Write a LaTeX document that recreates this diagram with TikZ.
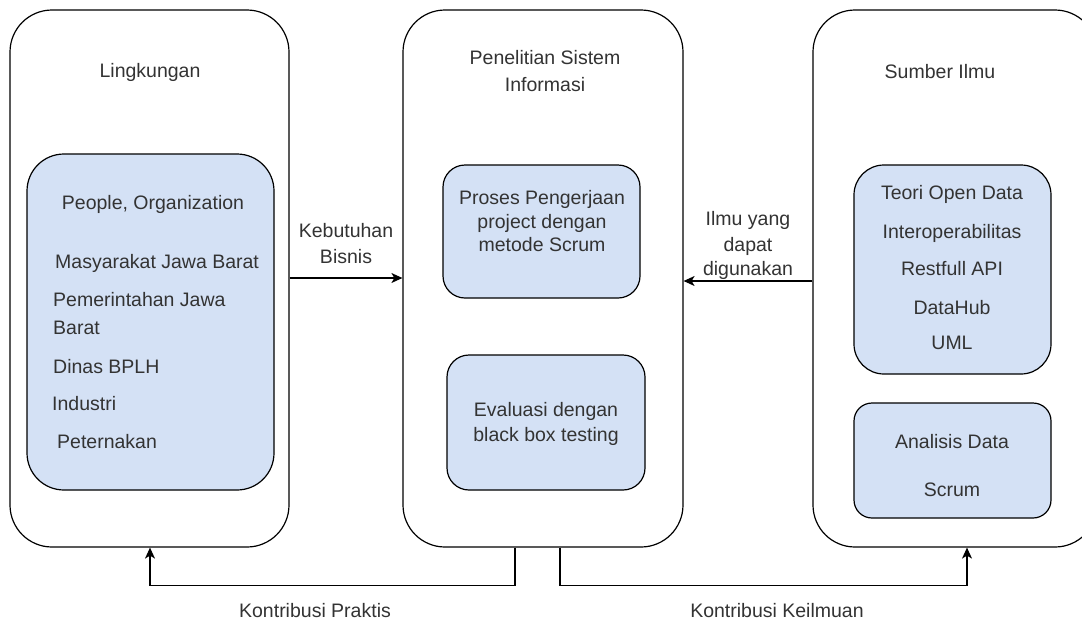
\documentclass[tikz,border=0pt]{standalone}
\usepackage{fontspec}
\setmainfont{Liberation Sans}
\usetikzlibrary{arrows.meta}
\definecolor{boxfill}{HTML}{D4E1F5}
\definecolor{txt}{HTML}{333333}
\begin{document}
\begin{tikzpicture}[x=1pt,y=-1pt,
  outer/.style={draw=black, line width=1.2pt, rounded corners=42pt, inner sep=0pt},
  innerbox/.style={draw=black, line width=1.2pt, fill=boxfill, inner sep=0pt},
  lbl/.style={text=txt, inner sep=0pt, anchor=base, font=\fontsize{19.5}{24}\selectfont},
  lbll/.style={lbl, anchor=base west},
  conn/.style={draw=black, line width=1.2pt, -{Stealth[length=11pt,width=10pt,inset=3pt]}}
]
\useasboundingbox (0,0) rectangle (1082,622);
\fill[white] (0,0) rectangle (1082,622);
\clip (0,0) rectangle (1082,622);

% outer containers
\node[outer, minimum width=279pt, minimum height=537pt] (L) at (149.5,278.5) {};
\node[outer, minimum width=280pt, minimum height=537pt] (C) at (543,278.5) {};
\node[outer, minimum width=284pt, minimum height=537pt] (R) at (955,278.5) {};

% inner boxes
\node[innerbox, rounded corners=37pt, minimum width=247pt, minimum height=336pt] (Lin) at (150.5,322) {};
\node[innerbox, rounded corners=22pt, minimum width=197pt, minimum height=133pt] (C1) at (541.5,231.5) {};
\node[innerbox, rounded corners=22pt, minimum width=198pt, minimum height=135pt] (C2) at (546,422.5) {};
\node[innerbox, rounded corners=30pt, minimum width=197pt, minimum height=209pt] (R1) at (952.5,269.5) {};
\node[innerbox, rounded corners=18pt, minimum width=197pt, minimum height=115pt] (R2) at (952.5,460.5) {};

% titles
\node[lbl] (tL) at (150,77) {Lingkungan};
\node[lbl] (tC1) at (545,64) {Penelitian Sistem};
\node[lbl] (tC2) at (545,91) {Informasi};
\node[lbl] (tR) at (940,78) {Sumber Ilmu};

% left inner texts
\node[lbl] (po) at (153,209) {People, Organization};
\node[lbll] (l1) at (55,268) {Masyarakat Jawa Barat};
\node[lbll] (l2) at (53,306) {Pemerintahan Jawa};
\node[lbll] (l3) at (53,334) {Barat};
\node[lbll] (l4) at (53,373) {Dinas BPLH};
\node[lbll] (l5) at (52,410) {Industri};
\node[lbll] (l6) at (57,448) {Peternakan};

% center inner texts
\node[lbl] (c11) at (542,204) {Proses Pengerjaan};
\node[lbl] (c12) at (542,228) {project dengan};
\node[lbl] (c13) at (542,251) {metode Scrum};
\node[lbl] (c21) at (546,416) {Evaluasi dengan};
\node[lbl] (c22) at (546,441) {black box testing};

% right inner texts
\node[lbl] (r11) at (952,199) {Teori Open Data};
\node[lbl] (r12) at (952,238) {Interoperabilitas};
\node[lbl] (r13) at (952,275) {Restfull API};
\node[lbl] (r14) at (952,314) {DataHub};
\node[lbl] (r15) at (952,349) {UML};
\node[lbl] (r21) at (952,448) {Analisis Data};
\node[lbl] (r22) at (952,496) {Scrum};

% connectors
\coordinate (kb) at (0,278);
\coordinate (iy) at (0,281);
\coordinate (pr) at (515,0);
\coordinate (ke) at (560,0);
\coordinate (lp) at (150,0);
\coordinate (rk) at (967,0);
\draw[conn] (L.east |- kb) -- (C.west |- kb);
\draw[conn] (R.west |- iy) -- (C.east |- iy);
\draw[conn] (C.south -| pr) -- ++(0,38) -| (L.south -| lp);
\draw[conn] (C.south -| ke) -- ++(0,38) -| (R.south -| rk);

% connector labels
\node[lbl] (k1) at (346,237) {Kebutuhan};
\node[lbl] (k2) at (346,263) {Bisnis};
\node[lbl] (i1) at (748,225) {Ilmu yang};
\node[lbl] (i2) at (748,251) {dapat};
\node[lbl] (i3) at (748,275) {digunakan};
\node[lbl] (kp) at (315,617) {Kontribusi Praktis};
\node[lbl] (kk) at (777,617) {Kontribusi Keilmuan};
\end{tikzpicture}
\end{document}
